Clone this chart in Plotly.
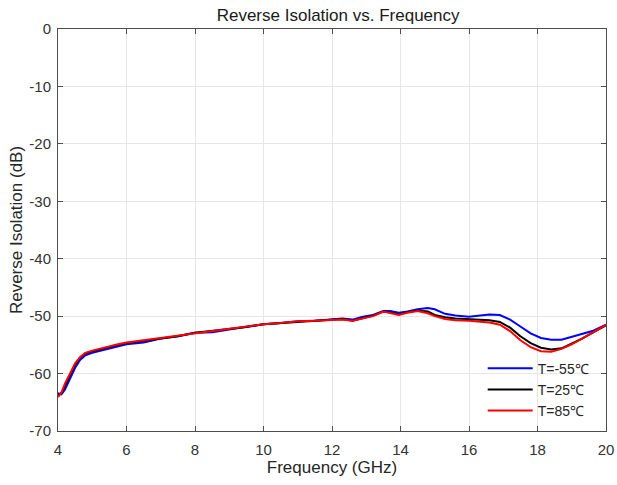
import plotly.graph_objects as go

freq = [4.0, 4.1, 4.2, 4.35, 4.5, 4.65, 4.8, 5.0, 5.25, 5.5, 5.75, 6.0, 6.5, 7.0, 7.5, 8.0, 8.5, 9.0, 9.5, 10.0,
        10.5, 11.0, 11.5, 12.0, 12.3, 12.6, 12.9, 13.2, 13.5, 13.7, 13.95, 14.2, 14.5, 14.8, 15.0, 15.3, 15.6,
        16.0, 16.3, 16.6, 16.9, 17.2, 17.5, 17.8, 18.1, 18.4, 18.7, 19.0, 19.3, 19.6, 20.0]

t_m55 = [-63.4, -63.6, -62.8, -61.0, -59.0, -57.6, -56.8, -56.4, -56.0, -55.7, -55.3, -54.9, -54.6, -53.9, -53.5,
         -52.9, -52.8, -52.3, -51.8, -51.4, -51.2, -50.9, -50.8, -50.5, -50.4, -50.6, -50.1, -49.8, -49.1, -49.1,
         -49.4, -49.2, -48.8, -48.6, -48.8, -49.6, -49.9, -50.1, -49.9, -49.7, -49.8, -50.6, -51.8, -53.0, -53.8,
         -54.1, -54.1, -53.6, -53.1, -52.6, -51.5]

t_25 = [-63.8, -63.4, -62.2, -60.2, -58.4, -57.2, -56.5, -56.1, -55.7, -55.3, -55.0, -54.7, -54.3, -53.8, -53.5,
        -52.9, -52.6, -52.3, -51.9, -51.4, -51.2, -50.9, -50.8, -50.6, -50.5, -50.8, -50.3, -49.9, -49.2, -49.3,
        -49.7, -49.3, -49.0, -49.2, -49.8, -50.2, -50.4, -50.5, -50.6, -50.7, -51.0, -52.0, -53.5, -54.7, -55.5,
        -55.8, -55.6, -54.8, -53.9, -52.9, -51.6]

t_85 = [-64.1, -63.3, -61.8, -59.9, -58.2, -57.1, -56.4, -56.0, -55.6, -55.2, -54.9, -54.6, -54.2, -53.8, -53.4,
        -53.0, -52.6, -52.2, -51.9, -51.4, -51.2, -50.9, -50.8, -50.6, -50.6, -50.8, -50.4, -50.0, -49.2, -49.5,
        -49.8, -49.4, -49.1, -49.5, -50.0, -50.5, -50.7, -50.8, -50.9, -51.1, -51.5, -52.6, -54.2, -55.4, -56.1,
        -56.2, -55.7, -54.9, -53.9, -52.9, -51.5]

x_ticks = [4, 6, 8, 10, 12, 14, 16, 18, 20]
y_ticks = [0, -10, -20, -30, -40, -50, -60, -70]
y_tick_text = ["0", "-10", "-20", "-30", "-40", "-50", "-60", "-70"]

FONT = "Liberation Sans, Arial"

fig = go.Figure()
fig.add_trace(go.Scatter(x=freq, y=t_m55, mode="lines", name="T=-55℃", line=dict(color="#0000ff", width=2)))
fig.add_trace(go.Scatter(x=freq, y=t_25, mode="lines", name="T=25℃", line=dict(color="#000000", width=2)))
fig.add_trace(go.Scatter(x=freq, y=t_85, mode="lines", name="T=85℃", line=dict(color="#ff0000", width=2)))

axis_common = dict(
    showgrid=True, gridcolor="#e6e6e6", gridwidth=1,
    showline=True, linecolor="#4d4d4d", linewidth=1, mirror="ticks",
    ticks="inside", ticklen=5, tickcolor="#4d4d4d",
    tickfont=dict(family=FONT, size=15, color="#333333"),
    zeroline=False, automargin=False,
)

fig.update_layout(
    width=617, height=485,
    margin=dict(l=58, r=11, t=29, b=54),
    paper_bgcolor="white", plot_bgcolor="white",
    title=dict(text="Reverse Isolation vs. Frequency", x=0.548, xanchor="center", y=0.968, yanchor="middle",
               font=dict(family=FONT, size=17, color="#1a1a1a")),
    xaxis=dict(range=[4, 20], tickvals=x_ticks, ticklabelstandoff=5,
               title=dict(text="Frequency (GHz)", standoff=4,
                          font=dict(family=FONT, size=17, color="#262626")),
               **axis_common),
    yaxis=dict(range=[-70, 0], tickvals=y_ticks, ticktext=y_tick_text, ticklabelstandoff=3,
               title=dict(text="Reverse Isolation (dB)", standoff=2,
                          font=dict(family=FONT, size=17, color="#262626")),
               **axis_common),
    legend=dict(x=0.775, y=0.195, xanchor="left", yanchor="top", bgcolor="rgba(255,255,255,0)", borderwidth=0,
                font=dict(family=FONT, size=14, color="#262626"),
                tracegroupgap=0, itemwidth=45),
    showlegend=True,
)

fig.write_html("out.html")
